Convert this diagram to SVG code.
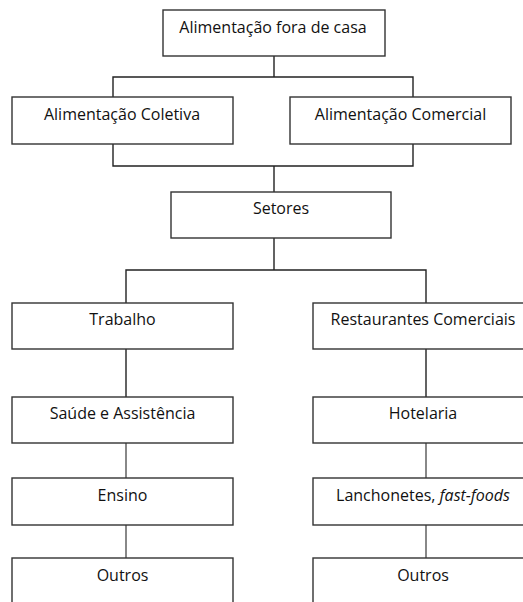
<svg xmlns="http://www.w3.org/2000/svg" width="523" height="602" viewBox="0 0 523 602">
<style>
.box{fill:#fff;stroke:#333;stroke-width:1.4}
.t{font-family:"Open Sans","Liberation Sans",Arial,sans-serif;font-size:16px;fill:#111;text-anchor:middle}
.c{fill:none;stroke:#222;stroke-width:1.4}
.g{fill:none;stroke:#888;stroke-width:2}
</style>
<rect width="523" height="602" fill="#fff"/>
<g id="connectors">
<path class="c" d="M274,56V77M113,97V77H413V97"/>
<path class="c" d="M113,144V166H413V144M274,166V192"/>
<path class="c" d="M274,238V270M126,303V270H426V303"/>
<path class="c" d="M126,349V397M426,349V397"/>
<path class="g" d="M126,443V478M126,525V558M426,443V478M426,525V558"/>
</g>
<g id="n-fora"><rect class="box" x="163" y="10" width="222" height="46"/><text class="t" x="273" y="33">Alimentação fora de casa</text></g>
<g id="n-coletiva"><rect class="box" x="12" y="97" width="221" height="47"/><text class="t" x="122" y="120">Alimentação Coletiva</text></g>
<g id="n-comercial"><rect class="box" x="290" y="97" width="221" height="47"/><text class="t" x="400.5" y="120">Alimentação Comercial</text></g>
<g id="n-setores"><rect class="box" x="171" y="192" width="220" height="46"/><text class="t" x="281" y="214">Setores</text></g>
<g id="n-trabalho"><rect class="box" x="12" y="303" width="221" height="46"/><text class="t" x="122.5" y="325">Trabalho</text></g>
<g id="n-restaurantes"><rect class="box" x="313" y="303" width="221" height="46"/><text class="t" x="423" y="325">Restaurantes Comerciais</text></g>
<g id="n-saude"><rect class="box" x="12" y="397" width="221" height="46"/><text class="t" x="122.5" y="419">Saúde e Assistência</text></g>
<g id="n-hotelaria"><rect class="box" x="313" y="397" width="221" height="46"/><text class="t" x="423" y="419">Hotelaria</text></g>
<g id="n-ensino"><rect class="box" x="12" y="478" width="221" height="47"/><text class="t" x="122.5" y="501">Ensino</text></g>
<g id="n-lanchonetes"><rect class="box" x="313" y="478" width="221" height="47"/><text class="t" x="423" y="501">Lanchonetes, <tspan font-style="italic">fast-foods</tspan></text></g>
<g id="n-outros1"><rect class="box" x="12" y="558" width="221" height="60"/><text class="t" x="122.5" y="581">Outros</text></g>
<g id="n-outros2"><rect class="box" x="313" y="558" width="221" height="60"/><text class="t" x="423" y="581">Outros</text></g>
</svg>
